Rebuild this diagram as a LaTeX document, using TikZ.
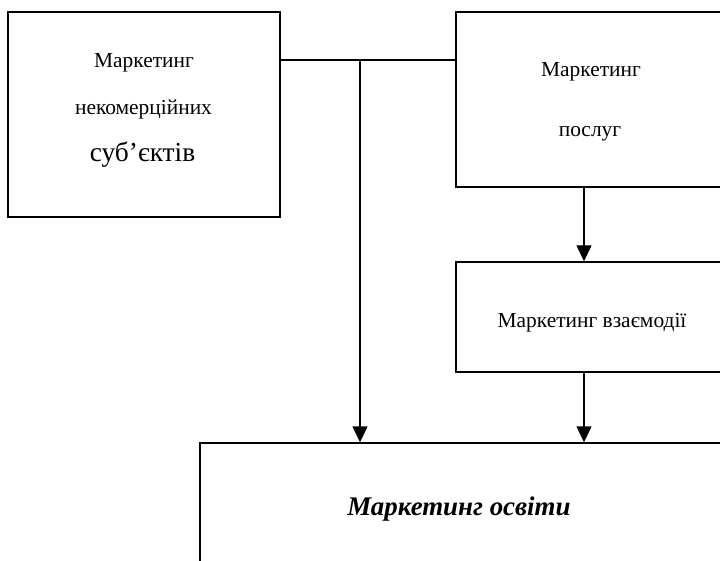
\documentclass[tikz,border=0pt]{standalone}
\usepackage{fontspec}
\setmainfont{Liberation Serif}
\usetikzlibrary{arrows.meta}
\begin{document}
\begin{tikzpicture}[x=1bp,y=-1bp,
  box/.style={draw,line width=1.4bp,inner sep=0pt},
  txt/.style={anchor=base,inner sep=0pt,font=\fontsize{21.5}{26}\selectfont},
  conn/.style={line width=1.4bp},
  arr/.style={conn,-{Triangle[width=15bp,length=16bp]}}]
\useasboundingbox (0,0) rectangle (720,561);
\clip (0,0) rectangle (720,561);
\node[box,minimum width=272bp,minimum height=205bp] (nc) at (144,114.5) {};
\node[box,minimum width=272bp,minimum height=175bp] (svc) at (592,99.5) {};
\node[box,minimum width=272bp,minimum height=110bp] (int) at (592,317) {};
\node[box,minimum width=540bp,minimum height=240bp] (edu) at (470,563) {};
\node[txt] (nc1) at (144,67.3) {Маркетинг};
\node[txt] (nc2) at (143.5,115) {некомерційних};
\node[txt,font=\fontsize{27.5}{33}\selectfont] (nc3) at (142.5,161.5) {суб’єктів};
\node[txt] (svc1) at (591,76.7) {Маркетинг};
\node[txt] (svc2) at (590,137) {послуг};
\node[txt] (int1) at (592,327) {Маркетинг взаємодії};
\node[txt,font=\fontsize{27}{32}\selectfont\bfseries\itshape] (edu1) at (459,515) {Маркетинг освіти};
\coordinate (j) at (360,60);
\coordinate (ax) at (584,0);
\draw[conn] (nc.east |- j) -- (svc.west |- j);
\draw[arr] (j) -- (edu.north -| j);
\draw[arr] (svc.south -| ax) -- (int.north -| ax);
\draw[arr] (int.south -| ax) -- (edu.north -| ax);
\end{tikzpicture}
\end{document}
